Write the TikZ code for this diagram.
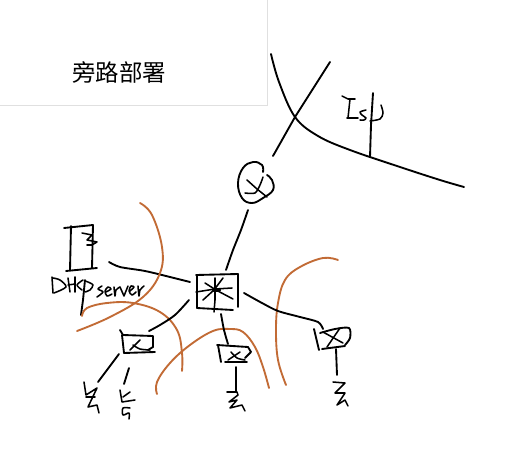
\documentclass[tikz,border=0pt]{standalone}
\usepackage{fontspec}
\newfontfamily\cjk{Noto Sans CJK SC}
\definecolor{rust}{HTML}{C26B35}
\tikzset{
 ink/.style={draw=black,line width=1.4pt,line cap=round,line join=round},
 thin ink/.style={draw=black,line width=1.15pt,line cap=round,line join=round},
 brown/.style={draw=rust,line width=1.4pt,line cap=round,line join=round},
 x=0.75pt,y=-0.75pt}
\begin{document}
\begin{tikzpicture}
\useasboundingbox (0,0) rectangle (528,464);
\fill[white] (0,0) rectangle (528,464);
% title card
\draw[draw=black!12,line width=0.75pt] (0,105) -- (267.5,105) -- (267.5,0);
\node (title) at (119,72) {\cjk\fontsize{17.6}{20}\selectfont 旁路部署};
% ISP curves
\draw[ink] plot[smooth,tension=0.6] coordinates {(271,54) (279,82) (295,117) (318,136) (350,150) (400,167) (440,180) (464,187)};
\draw[ink] (330,62) -- (295,117) -- (273,156);
\draw[ink] (373,93) -- (371,125) -- (370,157);
% Isp letters
\draw[thin ink] (342,96) -- (348,99) -- (355,99);
\draw[thin ink] (350,99) -- (348,118);
\draw[thin ink] (347,118) -- (358,118);
\draw[thin ink] plot[smooth] coordinates {(366,110) (360,112) (362,115) (366,118) (364,120) (360,120)};
\draw[thin ink] plot[smooth] coordinates {(381,105) (383,113) (380,119) (370,121)};
% router
\draw[ink] plot[smooth,tension=0.7] coordinates {(263,172) (262,165) (253,162) (243,168) (238,183) (242,198) (252,203) (263,198) (273,190) (272,180) (267,175)};
\draw[thin ink] (247,180) -- (257,189) -- (267,197);
\draw[thin ink] plot[smooth] coordinates {(245,193) (255,193) (260,185) (263,177)};
\draw[ink] plot[smooth] coordinates {(248,210) (241,230) (233,250) (226,270)};
% central switch
\draw[ink] (196,275) -- (238,274) -- (238,307);
\draw[ink] (197,275) -- (197,308);
\draw[ink] (197,308) -- (233,310);
\draw[thin ink] (196,292) -- (215,289) -- (232,288);
\draw[thin ink] (215,278) -- (215,300) -- (214,312);
\draw[thin ink] (203,300) -- (214,290) -- (223,278);
\draw[thin ink] (205,283) -- (216,290) -- (233,299);
\draw[line width=3pt,line cap=round] (214,290) -- (219,290);
% server box
\draw[ink] (64,228) -- (93,225) -- (92,268);
\draw[ink] (71,226) -- (70,270);
\draw[ink] (66,271) -- (97,268);
\draw[thin ink] plot coordinates {(82,233) (92,235) (87,240) (97,242) (92,245) (87,245)};
% server connector
\draw[ink] plot[smooth] coordinates {(109,262) (120,267) (145,271) (170,277) (190,282)};
% DHCP server handwriting
\draw[thin ink] (52,277) -- (53,293);
\draw[thin ink] plot[smooth] coordinates {(53,278) (60,280) (66,287) (54,293)};
\draw[thin ink] (68,278) -- (70,292);
\draw[thin ink] (68,285) -- (75,284);
\draw[thin ink] (75,277) -- (75,292);
\draw[thin ink] plot[smooth] coordinates {(83,280) (77,285) (82,290)};
\draw[thin ink] plot[smooth] coordinates {(85,281) (88,282) (93,285) (90,290) (85,292)};
\draw[ink] (85,280) -- (83,300) -- (81,315);
\draw[thin ink] plot[smooth] coordinates {(102,286) (98,289) (103,292) (97,297)};
\draw[thin ink] plot[smooth] coordinates {(106,292) (111,289) (108,287) (105,291) (107,296) (112,294)};
\draw[thin ink] plot[smooth] coordinates {(114,287) (115,296) (116,290) (120,287)};
\draw[thin ink] (120,287) -- (124,296) -- (128,286);
\draw[thin ink] plot[smooth] coordinates {(130,291) (134,287) (131,286) (129,291) (132,295) (136,292)};
\draw[thin ink] plot[smooth] coordinates {(138,286) (139,296) (140,290) (144,286)};
% orange boundaries
\draw[brown] plot[smooth,tension=0.65] coordinates {(140,203) (152,215) (162,247) (160,273) (143,297) (110,317) (77,331)};
\draw[brown] plot[smooth,tension=0.65] coordinates {(82,316) (87,308) (107,303) (133,303) (160,312) (177,330) (182,353) (182,371)};
\draw[brown] plot[smooth,tension=0.65] coordinates {(157,394) (157,382) (170,363) (190,345) (213,331) (230,329) (243,332) (255,347) (263,367) (269,388)};
\draw[brown] plot[smooth,tension=0.65] coordinates {(338,260) (323,258) (300,267) (285,280) (278,303) (276,330) (278,360) (286,385)};
% left switch
\draw[ink] plot[smooth] coordinates {(189,300) (175,315) (160,325) (149,331)};
\draw[ink] (120,330) -- (123,335) -- (153,336) -- (153,347) -- (148,350);
\draw[ink] (122,335) -- (124,353);
\draw[ink] (124,353) -- (155,352);
\draw[thin ink] (130,350) -- (140,340);
\draw[thin ink] plot[smooth] coordinates {(133,345) (140,349) (150,350)};
\draw[ink] (119,354) -- (98,382);
\draw[ink] (129,368) -- (124,384);
% hosts left
\draw[thin ink] plot coordinates {(84,382) (86,395) (97,388) (88,407) (97,405) (99,413)};
\draw[thin ink] (86,397) -- (95,397);
\draw[thin ink] plot coordinates {(120,390) (122,402) (135,400)};
\draw[thin ink] plot coordinates {(123,397) (130,392)};
\draw[thin ink] plot[smooth] coordinates {(130,408) (123,408) (123,415) (129,413) (129,419)};
% link to bottom switch
\draw[ink] plot[smooth] coordinates {(221,314) (224,330) (228,344)};
\draw[ink] (217,345) -- (248,347) -- (251,352) -- (245,358);
\draw[ink] (218,345) -- (221,362);
\draw[ink] (225,362) -- (247,362);
\draw[thin ink] (228,360) -- (240,352);
\draw[thin ink] plot[smooth] coordinates {(231,352) (237,358) (245,360)};
\draw[ink] (236,367) -- (236,392);
\draw[thin ink] plot coordinates {(227,392) (237,392) (238,395) (229,402) (237,400) (230,408) (242,405) (245,411)};
% link to right switch
\draw[ink] plot[smooth] coordinates {(244,293) (262,303) (278,311) (300,317) (318,322) (323,329)};
\draw[ink] (314,329) -- (319,350);
\draw[ink] plot[smooth] coordinates {(320,333) (335,329) (349,328) (350,338) (345,345)};
\draw[ink] (322,349) -- (345,346);
\draw[thin ink] (323,332) -- (343,343);
\draw[thin ink] (327,347) -- (340,328);
\draw[ink] (336,349) -- (337,375);
\draw[thin ink] plot coordinates {(333,382) (345,383) (335,393) (345,393) (337,405) (345,400) (348,406)};
\end{tikzpicture}
\end{document}
